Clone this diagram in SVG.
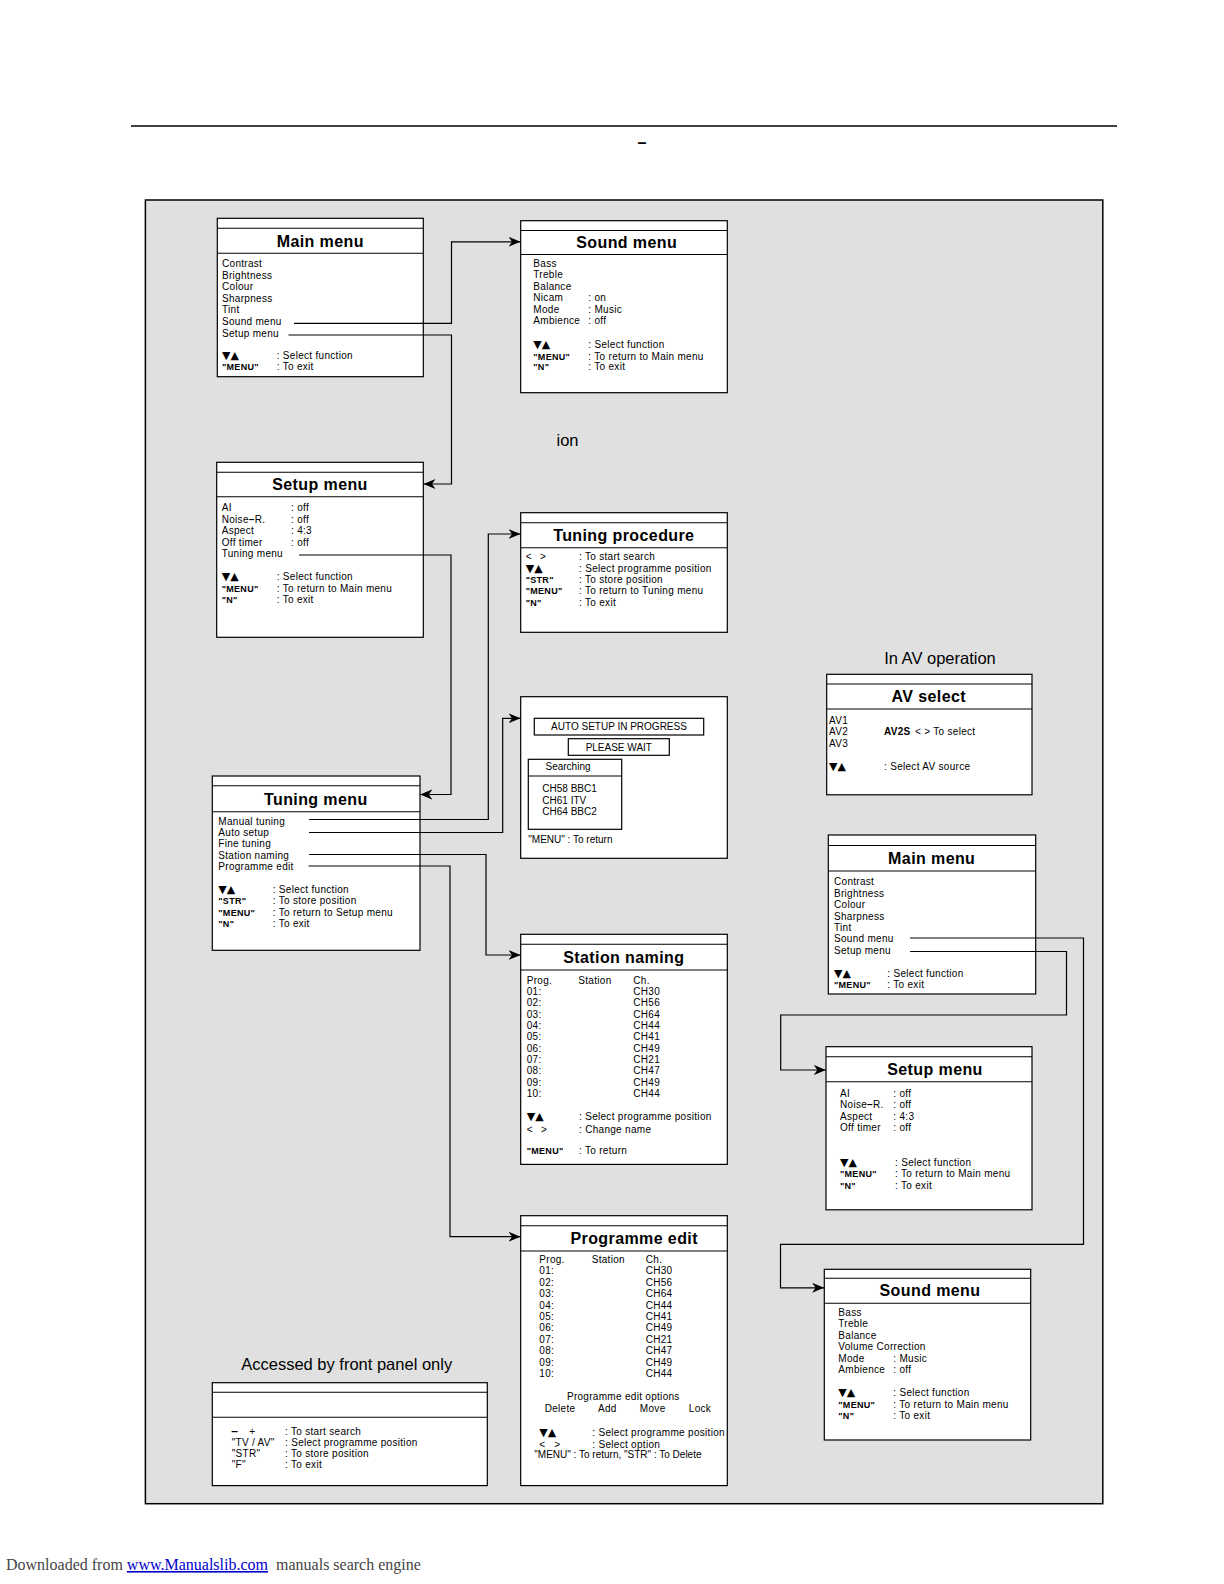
<svg xmlns="http://www.w3.org/2000/svg" width="1224" height="1584" viewBox="0 0 1224 1584">
<defs>
<style>
.box{fill:#fff;stroke:#000;stroke-width:1.2}
.ln{stroke:#000;stroke-width:1.1}
text{font-family:"Liberation Sans",Arial,Helvetica,sans-serif;fill:#000}
.t{font-size:10px;letter-spacing:0.3px}
.t0{font-size:10px;letter-spacing:0}
.b{font-size:9px;font-weight:bold;letter-spacing:0.3px}
.h{font-size:16px;font-weight:bold;text-anchor:middle;letter-spacing:0.4px}
.tri{font-family:"DejaVu Sans",sans-serif;font-size:11px;letter-spacing:0}
.cap{font-size:16.5px}
.mid{text-anchor:middle}
#connectors path{fill:none;stroke:#000;stroke-width:1.2;marker-end:url(#arr)}
</style>
<marker id="arr" markerUnits="userSpaceOnUse" markerWidth="13" markerHeight="11" refX="12" refY="5" orient="auto">
<path d="M0,0 L12,5 L0,10 L3.5,5 z" fill="#000"/>
</marker>
</defs>
<rect x="0" y="0" width="1224" height="1584" fill="#fff"/>
<line x1="131" y1="126" x2="1117" y2="126" stroke="#000" stroke-width="1.5"/>
<text x="642" y="148" class="mid" style="font-size:16px;font-weight:bold">–</text>
<rect x="145.4" y="200" width="957.4" height="1303.7" fill="#e0e0e0" stroke="#000" stroke-width="1.5"/>

<text x="556.5" y="446" class="cap">ion</text>
<text x="940" y="663.5" class="cap mid">In AV operation</text>
<text x="346.7" y="1370" class="cap mid">Accessed by front panel only</text>

<g id="main-menu">
<rect class="box" x="217.3" y="218.3" width="206" height="158.4"/>
<line class="ln" x1="217.3" y1="228.3" x2="423.3" y2="228.3"/>
<line class="ln" x1="217.3" y1="253.3" x2="423.3" y2="253.3"/>
<text class="h" x="320.3" y="246.5">Main menu</text>
<text class="t" x="222" y="267">Contrast</text>
<text class="t" x="222" y="278.6">Brightness</text>
<text class="t" x="222" y="290.2">Colour</text>
<text class="t" x="222" y="301.8">Sharpness</text>
<text class="t" x="222" y="313.4">Tint</text>
<text class="t" x="222" y="325">Sound menu</text>
<text class="t" x="222" y="336.6">Setup menu</text>
<text class="tri" x="222" y="359.3">▼▲</text>
<text class="t" x="276.7" y="359.3">: Select function</text>
<text class="b" x="222" y="370.3">"MENU"</text>
<text class="t" x="276.7" y="370.3">: To exit</text>
</g>

<g id="sound-menu">
<rect class="box" x="520.7" y="220.7" width="206.6" height="172"/>
<line class="ln" x1="520.7" y1="230.5" x2="727.3" y2="230.5"/>
<line class="ln" x1="520.7" y1="254.5" x2="727.3" y2="254.5"/>
<text class="h" x="626.7" y="247.5">Sound menu</text>
<text class="t" x="533.3" y="266.9">Bass</text>
<text class="t" x="533.3" y="278.4">Treble</text>
<text class="t" x="533.3" y="289.9">Balance</text>
<text class="t" x="533.3" y="301.4">Nicam</text>
<text class="t" x="533.3" y="312.9">Mode</text>
<text class="t" x="533.3" y="324.4">Ambience</text>
<text class="t" x="588.3" y="301.4">: on</text>
<text class="t" x="588.3" y="312.9">: Music</text>
<text class="t" x="588.3" y="324.4">: off</text>
<text class="tri" x="533.3" y="348">▼▲</text>
<text class="t" x="588.3" y="348">: Select function</text>
<text class="b" x="533.3" y="359.5">"MENU"</text>
<text class="t" x="588.3" y="359.5">: To return to Main menu</text>
<text class="b" x="533.3" y="370.3">"N"</text>
<text class="t" x="588.3" y="370.3">: To exit</text>
</g>

<g id="setup-menu">
<rect class="box" x="216.7" y="462.3" width="206.6" height="175"/>
<line class="ln" x1="216.7" y1="472.3" x2="423.3" y2="472.3"/>
<line class="ln" x1="216.7" y1="496.7" x2="423.3" y2="496.7"/>
<text class="h" x="320" y="490">Setup menu</text>
<text class="t" x="221.7" y="511.3">AI</text>
<text class="t" x="221.7" y="522.8">Noise<tspan style="font-weight:bold">–</tspan>R.</text>
<text class="t" x="221.7" y="534.3">Aspect</text>
<text class="t" x="221.7" y="545.8">Off timer</text>
<text class="t" x="221.7" y="557.3">Tuning menu</text>
<text class="t" x="291" y="511.3">: off</text>
<text class="t" x="291" y="522.8">: off</text>
<text class="t" x="291" y="534.3">: 4:3</text>
<text class="t" x="291" y="545.8">: off</text>
<text class="tri" x="221.7" y="580.3">▼▲</text>
<text class="t" x="276.7" y="580.3">: Select function</text>
<text class="b" x="221.7" y="591.5">"MENU"</text>
<text class="t" x="276.7" y="591.5">: To return to Main menu</text>
<text class="b" x="221.7" y="602.9">"N"</text>
<text class="t" x="276.7" y="602.9">: To exit</text>
</g>

<g id="tuning-procedure">
<rect class="box" x="520.7" y="512.7" width="206.6" height="119.6"/>
<line class="ln" x1="520.7" y1="522.7" x2="727.3" y2="522.7"/>
<line class="ln" x1="520.7" y1="547.7" x2="727.3" y2="547.7"/>
<text class="h" x="623.8" y="540.5">Tuning procedure</text>
<text class="t" x="525.7" y="560.3">&lt;</text>
<text class="t" x="540" y="560.3">&gt;</text>
<text class="tri" x="525.7" y="571.6">▼▲</text>
<text class="b" x="525.7" y="582.9">"STR"</text>
<text class="b" x="525.7" y="594.2">"MENU"</text>
<text class="b" x="525.7" y="605.5">"N"</text>
<text class="t" x="579" y="560.3">: To start search</text>
<text class="t" x="579" y="571.6">: Select programme position</text>
<text class="t" x="579" y="582.9">: To store position</text>
<text class="t" x="579" y="594.2">: To return to Tuning menu</text>
<text class="t" x="579" y="605.5">: To exit</text>
</g>

<g id="auto-setup">
<rect class="box" x="520.7" y="696.7" width="206.6" height="161.6"/>
<rect class="box" x="534.3" y="718.3" width="169.4" height="16.7"/>
<text class="t0 mid" x="619" y="730.3">AUTO SETUP IN PROGRESS</text>
<rect class="box" x="568.3" y="738.7" width="101" height="16.6"/>
<text class="t0 mid" x="618.8" y="750.6">PLEASE WAIT</text>
<rect class="box" x="528.3" y="759.3" width="93.4" height="70"/>
<line class="ln" x1="528.3" y1="776" x2="621.7" y2="776"/>
<text class="t0 mid" x="568" y="770.3">Searching</text>
<text class="t0" x="542.3" y="791.9">CH58 BBC1</text>
<text class="t0" x="542.3" y="803.6">CH61 ITV</text>
<text class="t0" x="542.3" y="815.3">CH64 BBC2</text>
<text class="t0" x="528.3" y="842.9">"MENU" : To return</text>
</g>

<g id="tuning-menu">
<rect class="box" x="212.3" y="776" width="207.7" height="174.3"/>
<line class="ln" x1="212.3" y1="785.7" x2="420" y2="785.7"/>
<line class="ln" x1="212.3" y1="811.7" x2="420" y2="811.7"/>
<text class="h" x="315.8" y="804.5">Tuning menu</text>
<text class="t" x="218.3" y="824.6">Manual tuning</text>
<text class="t" x="218.3" y="836">Auto setup</text>
<text class="t" x="218.3" y="847.4">Fine tuning</text>
<text class="t" x="218.3" y="858.8">Station naming</text>
<text class="t" x="218.3" y="870.2">Programme edit</text>
<text class="tri" x="218.3" y="893">▼▲</text>
<text class="b" x="218.3" y="904.4">"STR"</text>
<text class="b" x="218.3" y="915.8">"MENU"</text>
<text class="b" x="218.3" y="927.2">"N"</text>
<text class="t" x="272.7" y="893">: Select function</text>
<text class="t" x="272.7" y="904.4">: To store position</text>
<text class="t" x="272.7" y="915.8">: To return to Setup menu</text>
<text class="t" x="272.7" y="927.2">: To exit</text>
</g>

<g id="av-select">
<rect class="box" x="826.7" y="674.3" width="205.3" height="120.5"/>
<line class="ln" x1="826.7" y1="684" x2="1032" y2="684"/>
<line class="ln" x1="826.7" y1="709" x2="1032" y2="709"/>
<text class="h" x="928.8" y="702">AV select</text>
<text class="t" x="829" y="723.6">AV1</text>
<text class="t" x="829" y="735.2">AV2</text>
<text class="t" x="829" y="746.8">AV3</text>
<text class="t" x="884" y="735.2" style="font-weight:bold">AV2S</text>
<text class="t" x="915" y="735.2">&lt; &gt; To select</text>
<text class="tri" x="829" y="770.3">▼▲</text>
<text class="t" x="884" y="770.3">: Select AV source</text>
</g>

<g id="main-menu-av">
<rect class="box" x="828.3" y="835" width="207.4" height="159"/>
<line class="ln" x1="828.3" y1="845.5" x2="1035.7" y2="845.5"/>
<line class="ln" x1="828.3" y1="871" x2="1035.7" y2="871"/>
<text class="h" x="931.7" y="864">Main menu</text>
<text class="t" x="834" y="885.3">Contrast</text>
<text class="t" x="834" y="896.7">Brightness</text>
<text class="t" x="834" y="908.1">Colour</text>
<text class="t" x="834" y="919.5">Sharpness</text>
<text class="t" x="834" y="930.9">Tint</text>
<text class="t" x="834" y="942.3">Sound menu</text>
<text class="t" x="834" y="953.7">Setup menu</text>
<text class="tri" x="834" y="976.9">▼▲</text>
<text class="t" x="887.3" y="976.9">: Select function</text>
<text class="b" x="834" y="987.9">"MENU"</text>
<text class="t" x="887.3" y="987.9">: To exit</text>
</g>

<g id="station-naming">
<rect class="box" x="520.7" y="934.3" width="206.6" height="230.1"/>
<line class="ln" x1="520.7" y1="944.3" x2="727.3" y2="944.3"/>
<line class="ln" x1="520.7" y1="970" x2="727.3" y2="970"/>
<text class="h" x="623.8" y="962.5">Station naming</text>
<text class="t" x="526.7" y="983.6">Prog.</text>
<text class="t" x="578.3" y="983.6">Station</text>
<text class="t" x="633.3" y="983.6">Ch.</text>
<text class="t" x="526.7" y="994.9">01:</text><text class="t" x="633.3" y="994.9">CH30</text>
<text class="t" x="526.7" y="1006.3">02:</text><text class="t" x="633.3" y="1006.3">CH56</text>
<text class="t" x="526.7" y="1017.6">03:</text><text class="t" x="633.3" y="1017.6">CH64</text>
<text class="t" x="526.7" y="1028.9">04:</text><text class="t" x="633.3" y="1028.9">CH44</text>
<text class="t" x="526.7" y="1040.3">05:</text><text class="t" x="633.3" y="1040.3">CH41</text>
<text class="t" x="526.7" y="1051.6">06:</text><text class="t" x="633.3" y="1051.6">CH49</text>
<text class="t" x="526.7" y="1062.9">07:</text><text class="t" x="633.3" y="1062.9">CH21</text>
<text class="t" x="526.7" y="1074.2">08:</text><text class="t" x="633.3" y="1074.2">CH47</text>
<text class="t" x="526.7" y="1085.6">09:</text><text class="t" x="633.3" y="1085.6">CH49</text>
<text class="t" x="526.7" y="1096.9">10:</text><text class="t" x="633.3" y="1096.9">CH44</text>
<text class="tri" x="526.7" y="1120.3">▼▲</text>
<text class="t" x="526.7" y="1132.6">&lt;</text>
<text class="t" x="541" y="1132.6">&gt;</text>
<text class="b" x="526.7" y="1154.3">"MENU"</text>
<text class="t" x="579" y="1120.3">: Select programme position</text>
<text class="t" x="579" y="1132.6">: Change name</text>
<text class="t" x="579" y="1154.3">: To return</text>
</g>

<g id="setup-menu-av">
<rect class="box" x="826" y="1046.7" width="206" height="163.1"/>
<line class="ln" x1="826" y1="1056.7" x2="1032" y2="1056.7"/>
<line class="ln" x1="826" y1="1081.7" x2="1032" y2="1081.7"/>
<text class="h" x="935" y="1074.5">Setup menu</text>
<text class="t" x="840" y="1096.9">AI</text>
<text class="t" x="840" y="1108.3">Noise<tspan style="font-weight:bold">–</tspan>R.</text>
<text class="t" x="840" y="1119.8">Aspect</text>
<text class="t" x="840" y="1131.3">Off timer</text>
<text class="t" x="893.3" y="1096.9">: off</text>
<text class="t" x="893.3" y="1108.3">: off</text>
<text class="t" x="893.3" y="1119.8">: 4:3</text>
<text class="t" x="893.3" y="1131.3">: off</text>
<text class="tri" x="840" y="1165.9">▼▲</text>
<text class="b" x="840" y="1177.4">"MENU"</text>
<text class="b" x="840" y="1188.6">"N"</text>
<text class="t" x="895" y="1165.9">: Select function</text>
<text class="t" x="895" y="1177.4">: To return to Main menu</text>
<text class="t" x="895" y="1188.6">: To exit</text>
</g>

<g id="programme-edit">
<rect class="box" x="520.7" y="1215.7" width="206.6" height="269.9"/>
<line class="ln" x1="520.7" y1="1225.7" x2="727.3" y2="1225.7"/>
<line class="ln" x1="520.7" y1="1251" x2="727.3" y2="1251"/>
<text class="h" x="634.2" y="1243.5">Programme edit</text>
<text class="t" x="539.3" y="1262.6">Prog.</text>
<text class="t" x="591.7" y="1262.6">Station</text>
<text class="t" x="645.7" y="1262.6">Ch.</text>
<text class="t" x="539.3" y="1274.1">01:</text><text class="t" x="645.7" y="1274.1">CH30</text>
<text class="t" x="539.3" y="1285.5">02:</text><text class="t" x="645.7" y="1285.5">CH56</text>
<text class="t" x="539.3" y="1297">03:</text><text class="t" x="645.7" y="1297">CH64</text>
<text class="t" x="539.3" y="1308.5">04:</text><text class="t" x="645.7" y="1308.5">CH44</text>
<text class="t" x="539.3" y="1319.9">05:</text><text class="t" x="645.7" y="1319.9">CH41</text>
<text class="t" x="539.3" y="1331.4">06:</text><text class="t" x="645.7" y="1331.4">CH49</text>
<text class="t" x="539.3" y="1342.9">07:</text><text class="t" x="645.7" y="1342.9">CH21</text>
<text class="t" x="539.3" y="1354.4">08:</text><text class="t" x="645.7" y="1354.4">CH47</text>
<text class="t" x="539.3" y="1365.8">09:</text><text class="t" x="645.7" y="1365.8">CH49</text>
<text class="t" x="539.3" y="1377.3">10:</text><text class="t" x="645.7" y="1377.3">CH44</text>
<text class="t mid" x="623.3" y="1400.3">Programme edit options</text>
<text class="t mid" x="560" y="1411.9">Delete</text>
<text class="t mid" x="607.3" y="1411.9">Add</text>
<text class="t mid" x="652.7" y="1411.9">Move</text>
<text class="t mid" x="700" y="1411.9">Lock</text>
<text class="tri" x="539.3" y="1436.3">▼▲</text>
<text class="t" x="539.3" y="1447.5">&lt;</text>
<text class="t" x="554.3" y="1447.5">&gt;</text>
<text class="t" x="592.3" y="1436.3">: Select programme position</text>
<text class="t" x="592.3" y="1447.5">: Select option</text>
<text class="t0" x="534.3" y="1458">"MENU" : To return, "STR" : To Delete</text>
</g>

<g id="front-panel">
<rect class="box" x="212.3" y="1382.7" width="275" height="102.9"/>
<line class="ln" x1="212.3" y1="1392.3" x2="487.3" y2="1392.3"/>
<line class="ln" x1="212.3" y1="1417.3" x2="487.3" y2="1417.3"/>
<text x="231.2" y="1434.8" style="font-size:12px;font-weight:bold">–</text>
<text class="t" x="249.3" y="1434.6">+</text>
<text class="t" x="231.7" y="1445.9">"TV / AV"</text>
<text class="t" x="231.7" y="1456.9">"STR"</text>
<text class="t" x="231.7" y="1467.9">"F"</text>
<text class="t" x="285" y="1434.6">: To start search</text>
<text class="t" x="285" y="1445.9">: Select programme position</text>
<text class="t" x="285" y="1456.9">: To store position</text>
<text class="t" x="285" y="1467.9">: To exit</text>
</g>

<g id="sound-menu-av">
<rect class="box" x="824.3" y="1269.3" width="206.4" height="170.7"/>
<line class="ln" x1="824.3" y1="1278.3" x2="1030.7" y2="1278.3"/>
<line class="ln" x1="824.3" y1="1303.3" x2="1030.7" y2="1303.3"/>
<text class="h" x="930" y="1296.3">Sound menu</text>
<text class="t" x="838.3" y="1315.9">Bass</text>
<text class="t" x="838.3" y="1327.3">Treble</text>
<text class="t" x="838.3" y="1338.7">Balance</text>
<text class="t" x="838.3" y="1350.1">Volume Correction</text>
<text class="t" x="838.3" y="1361.5">Mode</text>
<text class="t" x="838.3" y="1372.9">Ambience</text>
<text class="t" x="893.3" y="1361.5">: Music</text>
<text class="t" x="893.3" y="1372.9">: off</text>
<text class="tri" x="838.3" y="1395.9">▼▲</text>
<text class="b" x="838.3" y="1407.6">"MENU"</text>
<text class="b" x="838.3" y="1419.3">"N"</text>
<text class="t" x="893.3" y="1395.9">: Select function</text>
<text class="t" x="893.3" y="1407.6">: To return to Main menu</text>
<text class="t" x="893.3" y="1419.3">: To exit</text>
</g>

<g id="connectors">
<path d="M294,323.3 H451.5 V241.8 H520.5"/>
<path d="M288.5,335 H451.5 V484 H423.5"/>
<path d="M299,555 H451 V794.5 H420.3"/>
<path d="M309,819.5 H488.3 V534 H520.5"/>
<path d="M309,832.5 H502.7 V718.3 H520.5"/>
<path d="M309,854.5 H486 V955 H520.5"/>
<path d="M308.5,866 H450 V1236.7 H520.5"/>
<path d="M910,938 H1083.5 V1244.3 H780.5 V1287.8 H824.1"/>
<path d="M910,951.5 H1066.5 V1015 H780.7 V1070 H825.8"/>
</g>

<text x="6" y="1570" style="font-family:'Liberation Serif','Times New Roman',serif;font-size:16px;fill:#444" xml:space="preserve">Downloaded from <tspan style="fill:#0000cc;text-decoration:underline">www.Manualslib.com</tspan>  manuals search engine</text>
</svg>
